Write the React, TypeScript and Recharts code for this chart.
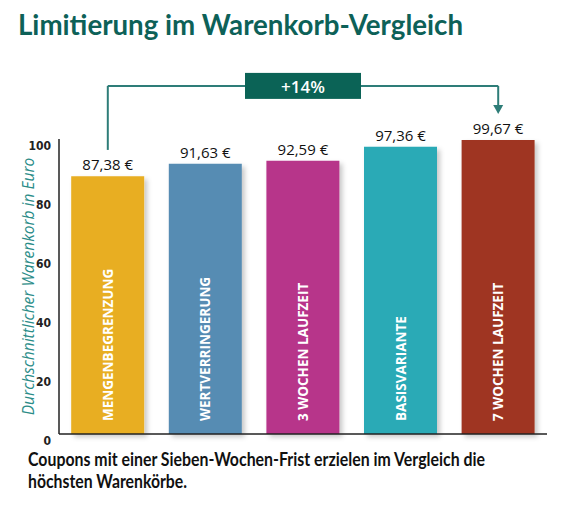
import React from 'react';
import { BarChart, Bar, XAxis, YAxis, Cell, LabelList, ReferenceLine, ReferenceDot } from 'recharts';

const categories = ['MENGENBEGRENZUNG', 'WERTVERRINGERUNG', '3 WOCHEN LAUFZEIT', 'BASISVARIANTE', '7 WOCHEN LAUFZEIT'];
const values = [87.38, 91.63, 92.59, 97.36, 99.67];
const colors = ['#E8AE20', '#578CB3', '#B7358A', '#2AAAB6', '#9F3623'];
const yTicks = [0, 20, 40, 60, 80, 100];
const increaseLabel = '+14%';
const titleText = 'Limitierung im Warenkorb-Vergleich';
const yAxisTitle = 'Durchschnittlicher Warenkorb in Euro';
const captionLines = ['Coupons mit einer Sieben-Wochen-Frist erzielen im Vergleich die', 'höchsten Warenkörbe.'];

const data = categories.map((name, i) => ({ name, value: values[i] }));

const fmt = (v: number) => v.toFixed(2).replace('.', ',') + ' €';

const TEAL_LINE = '#2E7D78';
const TEAL_DARK = '#0B6356';

const YTick = (props: any) => {
  const { x, y, payload } = props;
  return (
    <text x={x} y={y + 7} textAnchor="end" dominantBaseline="central"
      style={{ fontFamily: '"Liberation Sans Narrow", "Arial Narrow", "DejaVu Sans Condensed", sans-serif', fontSize: 12, fontWeight: 700, fill: '#222' }}>
      {payload.value}
    </text>
  );
};

const InnerLabel = (props: any) => {
  const { x, y, width, height, index } = props;
  const cx = x + width / 2;
  const by = y + height - 13;
  return (
    <text x={cx} y={by} transform={`rotate(-90 ${cx} ${by})`} textAnchor="start" dominantBaseline="central"
      style={{ fontFamily: '"Open Sans", sans-serif', fontSize: 13.5, fontWeight: 700, fill: '#fff' }}>
      {categories[index]}
    </text>
  );
};

const Arrow = (props: any) => {
  const { cx, cy } = props;
  return <polygon points={`${cx - 5},${cy - 9} ${cx + 5},${cy - 9} ${cx},${cy}`} fill={TEAL_LINE} />;
};

const Badge = (props: any) => {
  const { cx, cy } = props;
  return (
    <g>
      <rect x={cx - 58} y={cy - 13} width={116} height={26} fill={TEAL_DARK} />
      <text x={cx} y={cy + 1} textAnchor="middle" dominantBaseline="central"
        style={{ fontFamily: '"Open Sans", sans-serif', fontSize: 17, fontWeight: 600, fill: '#fff' }}>
        {increaseLabel}
      </text>
    </g>
  );
};

export default function App() {
  return (
    <div style={{ position: 'absolute', left: 0, top: 0, width: 564, height: 506, background: '#fff', overflow: 'hidden' }}>
      <svg width={564} height={60} style={{ position: 'absolute', left: 0, top: 0 }}>
        <text x={18} y={35} textLength={445} lengthAdjust="spacingAndGlyphs"
          style={{ fontFamily: 'Lato, sans-serif', fontSize: 28, fontWeight: 700, fill: '#0D6158' }}>
          {titleText}
        </text>
      </svg>
      <div style={{ position: 'absolute', left: 0, top: 0 }}>
        <BarChart width={564} height={506} data={data} margin={{ top: 139, right: 17, bottom: 42, left: 0 }} barCategoryGap="12.5%">
          <defs>
            <filter id="barShadow" x="-20%" y="-20%" width="150%" height="150%">
              <feDropShadow dx="3" dy="3" stdDeviation="2.5" floodColor="#000" floodOpacity="0.22" />
            </filter>
          </defs>
          <XAxis dataKey="name" tick={false} tickLine={false} height={30} axisLine={{ stroke: '#222', strokeWidth: 1.5 }} />
          <YAxis domain={[0, 100]} ticks={yTicks} interval={0} width={59} tickLine={false}
            axisLine={{ stroke: '#222', strokeWidth: 1.5 }} tick={<YTick />}
            label={{
              content: (p: any) => {
                const vb = p.viewBox || {};
                const cy = vb.y + vb.height / 2;
                return (
                  <text x={28} y={cy} transform={`rotate(-90 28 ${cy})`} textAnchor="middle" dominantBaseline="central"
                    style={{ fontFamily: '"Open Sans", sans-serif', fontSize: 15.5, fontStyle: 'italic', fontWeight: 400, fill: '#2A8C88' }}>
                    {yAxisTitle}
                  </text>
                );
              },
            }} />
          <Bar dataKey="value" isAnimationActive={false}>
            {data.map((d, i) => (
              <Cell key={d.name} fill={colors[i]} filter="url(#barShadow)" />
            ))}
            <LabelList dataKey="value" position="top" offset={6} formatter={(v: any) => fmt(Number(v))}
              style={{ fontFamily: '"Open Sans", sans-serif', fontSize: 15, fill: '#111' }} />
            <LabelList dataKey="value" content={<InnerLabel />} />
          </Bar>
          <ReferenceLine segment={[{ x: categories[0], y: 96.3 }, { x: categories[0], y: 118 }]} stroke={TEAL_LINE} strokeWidth={2} ifOverflow="visible" />
          <ReferenceLine segment={[{ x: categories[0], y: 118 }, { x: categories[4], y: 118 }]} stroke={TEAL_LINE} strokeWidth={2} ifOverflow="visible" />
          <ReferenceLine segment={[{ x: categories[4], y: 118 }, { x: categories[4], y: 111 }]} stroke={TEAL_LINE} strokeWidth={2} ifOverflow="visible" />
          <ReferenceDot x={categories[4]} y={108.5} r={5} shape={<Arrow />} ifOverflow="visible" />
          <ReferenceDot x={categories[2]} y={118} r={10} shape={<Badge />} ifOverflow="visible" />
        </BarChart>
      </div>
      <svg width={564} height={60} style={{ position: 'absolute', left: 0, top: 446 }}>
        <text x={28} y={20} textLength={457} lengthAdjust="spacingAndGlyphs"
          style={{ fontFamily: 'Lato, sans-serif', fontSize: 18, fontWeight: 700, fill: '#111' }}>
          {captionLines[0]}
        </text>
        <text x={28} y={42} textLength={159} lengthAdjust="spacingAndGlyphs"
          style={{ fontFamily: 'Lato, sans-serif', fontSize: 18, fontWeight: 700, fill: '#111' }}>
          {captionLines[1]}
        </text>
      </svg>
    </div>
  );
}
